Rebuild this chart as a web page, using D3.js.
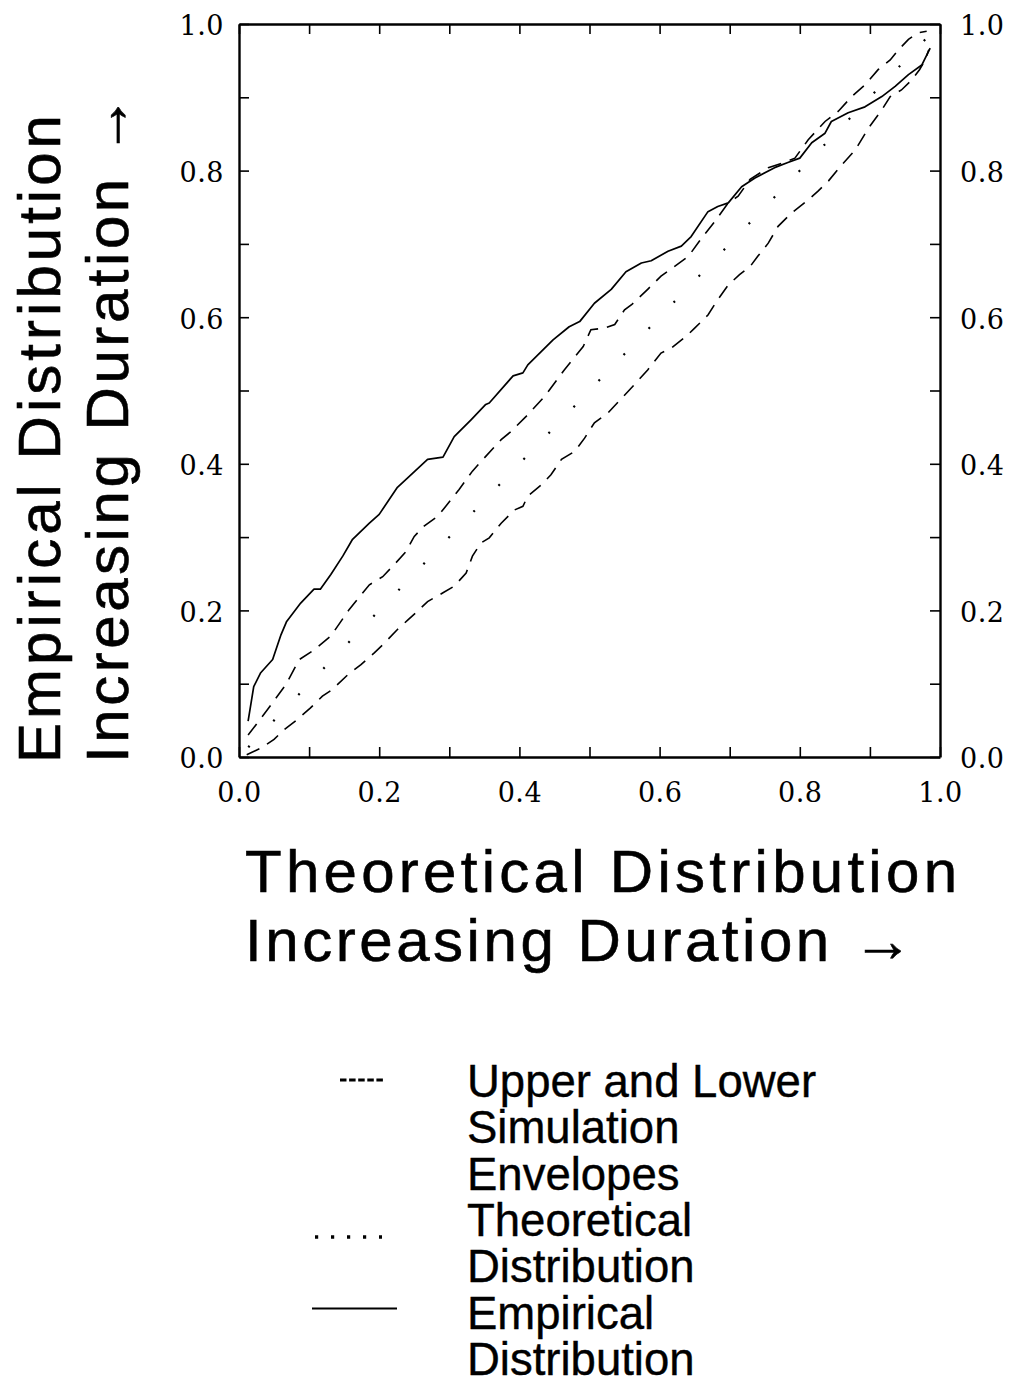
<!DOCTYPE html>
<html>
<head>
<meta charset="utf-8">
<script src="https://cdn.jsdelivr.net/npm/d3@7"></script>
<style>
  html, body { margin: 0; padding: 0; background: #fff; }
  svg { display: block; }
</style>
</head>
<body>
<svg id="chart" width="1015" height="1384"></svg>
<script>
// ---------- DATA ----------
const tickValues = [0, 0.1, 0.2, 0.3, 0.4, 0.5, 0.6, 0.7, 0.8, 0.9, 1.0];
const tickLabels = ["0.0", "", "0.2", "", "0.4", "", "0.6", "", "0.8", "", "1.0"];

// Empirical distribution (solid)
const empiricalX = [0.013,0.021,0.031,0.048,0.060,0.068,0.088,0.107,0.116,0.131,0.148,0.162,0.186,0.200,0.226,0.241,0.269,0.291,0.307,0.331,0.352,0.357,0.391,0.405,0.412,0.448,0.471,0.486,0.507,0.531,0.552,0.574,0.588,0.612,0.631,0.645,0.669,0.683,0.698,0.717,0.736,0.764,0.783,0.800,0.817,0.836,0.845,0.869,0.893,0.917,0.936,0.955,0.974,0.986];
const empiricalY = [0.049,0.096,0.115,0.133,0.167,0.185,0.210,0.229,0.229,0.249,0.274,0.297,0.319,0.331,0.368,0.381,0.406,0.409,0.437,0.460,0.481,0.483,0.520,0.524,0.535,0.569,0.587,0.594,0.619,0.638,0.662,0.674,0.677,0.690,0.697,0.710,0.744,0.751,0.756,0.778,0.790,0.804,0.811,0.817,0.838,0.851,0.867,0.879,0.887,0.901,0.915,0.931,0.944,0.967];

// Upper simulation envelope (dashed)
const upperX = [0.013,0.041,0.067,0.086,0.107,0.131,0.157,0.186,0.205,0.221,0.238,0.250,0.264,0.283,0.295,0.314,0.333,0.348,0.374,0.388,0.410,0.436,0.464,0.491,0.502,0.521,0.536,0.550,0.560,0.583,0.602,0.621,0.641,0.660,0.679,0.698,0.712,0.729,0.755,0.774,0.793,0.812,0.836,0.855,0.874,0.893,0.912,0.929,0.941,0.955,0.969,0.981];
const upperY = [0.030,0.065,0.099,0.133,0.146,0.165,0.201,0.235,0.246,0.262,0.280,0.301,0.315,0.328,0.342,0.365,0.390,0.406,0.433,0.444,0.465,0.492,0.528,0.560,0.583,0.585,0.590,0.610,0.617,0.638,0.656,0.669,0.683,0.708,0.731,0.756,0.765,0.788,0.804,0.810,0.817,0.842,0.867,0.881,0.901,0.917,0.938,0.951,0.965,0.979,0.988,0.990];

// Lower simulation envelope (dashed)
const lowerX = [0.011,0.031,0.050,0.064,0.083,0.102,0.119,0.133,0.155,0.174,0.193,0.207,0.226,0.241,0.257,0.269,0.291,0.307,0.324,0.333,0.345,0.357,0.374,0.393,0.405,0.412,0.431,0.445,0.460,0.479,0.493,0.507,0.526,0.564,0.583,0.602,0.617,0.638,0.650,0.669,0.683,0.698,0.714,0.729,0.740,0.755,0.769,0.788,0.812,0.826,0.841,0.860,0.879,0.898,0.917,0.929,0.945,0.960,0.971,0.979,0.984];
const lowerY = [0.003,0.012,0.024,0.037,0.051,0.067,0.083,0.092,0.112,0.126,0.142,0.155,0.174,0.187,0.201,0.212,0.224,0.233,0.251,0.274,0.292,0.299,0.319,0.337,0.342,0.356,0.371,0.385,0.406,0.417,0.435,0.456,0.469,0.508,0.528,0.551,0.558,0.574,0.585,0.603,0.624,0.644,0.658,0.669,0.683,0.701,0.724,0.742,0.760,0.772,0.786,0.808,0.828,0.858,0.883,0.901,0.910,0.924,0.938,0.951,0.965];

// Theoretical distribution (dotted diagonal)
const theoreticalX = [0, 1];
const theoreticalY = [0, 1];

const xTitleLines = ["Theoretical Distribution", "Increasing Duration \u2192"];
const yTitleLines = ["Empirical Distribution", "Increasing Duration \u2192"];
const legendSymbols = ["dash", "", "", "dot", "", "solid", ""];
const legendLines = ["Upper and Lower", "Simulation", "Envelopes", "Theoretical", "Distribution", "Empirical", "Distribution"];

// ---------- DRAW ----------
const svg = d3.select("#chart");
const x = d3.scaleLinear().domain([0, 1]).range([239, 940]);
const y = d3.scaleLinear().domain([0, 1]).range([757, 24]);

const tickFmt = d => tickLabels[tickValues.findIndex(v => Math.abs(v - d) < 1e-9)];
const tickFont = "'DejaVu Serif', 'Liberation Serif', serif";

function styleAxis(g) {
  g.select(".domain").attr("stroke", "#000").attr("stroke-width", 2.4);
  g.selectAll(".tick line").attr("stroke", "#000").attr("stroke-width", 1.6);
  g.selectAll(".tick text").attr("fill", "#000").attr("font-family", tickFont)
    .attr("font-size", 27).attr("letter-spacing", 0.5);
}

svg.append("g").attr("transform", `translate(0,${y(0)})`)
  .call(d3.axisBottom(x).tickValues(tickValues).tickSize(-10).tickSizeOuter(0).tickPadding(26).tickFormat(tickFmt))
  .call(styleAxis);
svg.append("g").attr("transform", `translate(0,${y(1)})`)
  .call(d3.axisTop(x).tickValues(tickValues).tickSize(-10).tickSizeOuter(0).tickFormat(""))
  .call(styleAxis);
svg.append("g").attr("transform", `translate(${x(0)},0)`)
  .call(d3.axisLeft(y).tickValues(tickValues).tickSize(-10).tickSizeOuter(0).tickPadding(15).tickFormat(tickFmt))
  .call(styleAxis)
  .selectAll(".tick text").attr("dy", "0.4em");
svg.append("g").attr("transform", `translate(${x(1)},0)`)
  .call(d3.axisRight(y).tickValues(tickValues).tickSize(-10).tickSizeOuter(0).tickPadding(20).tickFormat(tickFmt))
  .call(styleAxis)
  .selectAll(".tick text").attr("dy", "0.4em");

const line = d3.line().x(d => x(d[0])).y(d => y(d[1]));
const zip = (a, b) => a.map((v, i) => [v, b[i]]);

const plot = svg.append("g").attr("fill", "none").attr("stroke", "#000");
plot.append("path").datum(zip(theoreticalX, theoreticalY)).attr("d", line)
  .attr("stroke-width", 2.2).attr("stroke-dasharray", "2 34.2").attr("stroke-dashoffset", -13.4);
plot.append("path").datum(zip(lowerX, lowerY)).attr("d", line)
  .attr("stroke-width", 1.6).attr("stroke-dasharray", "14 9");
plot.append("path").datum(zip(upperX, upperY)).attr("d", line)
  .attr("stroke-width", 1.6).attr("stroke-dasharray", "14 9");
plot.append("path").datum(zip(empiricalX, empiricalY)).attr("d", line)
  .attr("stroke-width", 1.7).attr("stroke-linejoin", "round");

// Axis titles
const titleFont = "'Liberation Sans', Arial, Helvetica, sans-serif";
const xTitleLen = [712, 668];
xTitleLines.forEach((t, i) => {
  svg.append("text").attr("x", 245).attr("y", 892 + i * 69)
    .attr("font-family", titleFont).attr("font-size", 60)
    .attr("stroke", "#000").attr("stroke-width", 0.6)
    .attr("textLength", xTitleLen[i]).attr("lengthAdjust", "spacing")
    .text(t);
});
const yTitleLen = [648, 668];
yTitleLines.forEach((t, i) => {
  svg.append("text").attr("transform", `translate(${60 + i * 68},763) rotate(-90)`)
    .attr("font-family", titleFont).attr("font-size", 60)
    .attr("stroke", "#000").attr("stroke-width", 0.6)
    .attr("textLength", yTitleLen[i]).attr("lengthAdjust", "spacing")
    .text(t);
});

// Legend
const leg = svg.append("g");
legendLines.forEach((t, i) => {
  const by = 1097 + i * 46.3;
  leg.append("text").attr("x", 467).attr("y", by)
    .attr("font-family", titleFont).attr("font-size", 45.5)
    .attr("stroke", "#000").attr("stroke-width", 0.4).text(t);
  const sym = legendSymbols[i];
  if (sym === "dash") {
    leg.append("line").attr("x1", 340).attr("x2", 383).attr("y1", by - 17).attr("y2", by - 17)
      .attr("stroke", "#000").attr("stroke-width", 3).attr("stroke-dasharray", "6.5 2.6");
  } else if (sym === "dot") {
    leg.append("line").attr("x1", 315).attr("x2", 382).attr("y1", by + 1).attr("y2", by + 1)
      .attr("stroke", "#000").attr("stroke-width", 3.5).attr("stroke-dasharray", "3.2 12.8");
  } else if (sym === "solid") {
    leg.append("line").attr("x1", 312).attr("x2", 397).attr("y1", by - 20).attr("y2", by - 20)
      .attr("stroke", "#000").attr("stroke-width", 2.2);
  }
});
</script>
</body>
</html>
